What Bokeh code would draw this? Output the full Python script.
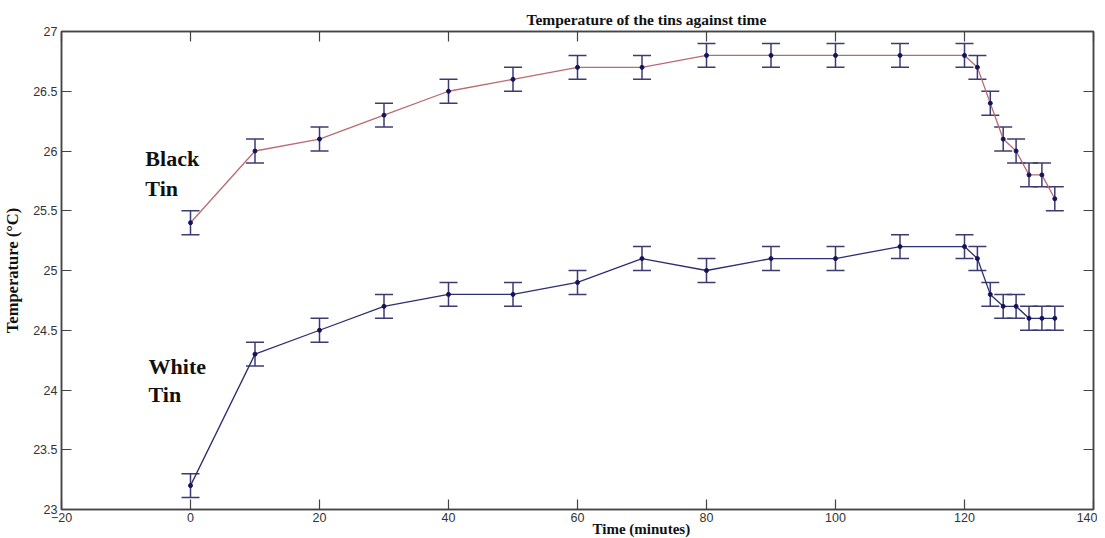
from bokeh.plotting import figure
from bokeh.models import ColumnDataSource, Whisker, TeeHead, Label, LinearAxis, Title
from bokeh.embed import file_html
from bokeh.resources import INLINE

time_min = [0, 10, 20, 30, 40, 50, 60, 70, 80, 90, 100, 110, 120, 122, 124, 126, 128, 130, 132, 134]
black_tin = [25.4, 26.0, 26.1, 26.3, 26.5, 26.6, 26.7, 26.7, 26.8, 26.8, 26.8, 26.8, 26.8,
             26.7, 26.4, 26.1, 26.0, 25.8, 25.8, 25.6]
white_tin = [23.2, 24.3, 24.5, 24.7, 24.8, 24.8, 24.9, 25.1, 25.0, 25.1, 25.1, 25.2, 25.2,
             25.1, 24.8, 24.7, 24.7, 24.6, 24.6, 24.6]
err = 0.1
x_ticks = [-20, 0, 20, 40, 60, 80, 100, 120, 140]
y_ticks = [23, 23.5, 24, 24.5, 25, 25.5, 26, 26.5, 27]

src_b = ColumnDataSource(dict(x=time_min, y=black_tin,
                              lo=[v - err for v in black_tin], hi=[v + err for v in black_tin]))
src_w = ColumnDataSource(dict(x=time_min, y=white_tin,
                              lo=[v - err for v in white_tin], hi=[v + err for v in white_tin]))

p = figure(frame_width=1032, frame_height=478, x_range=(-20, 140), y_range=(23, 27),
           output_backend="svg", toolbar_location=None,
           min_border_left=53, min_border_right=4, min_border_top=31, min_border_bottom=29)
p.background_fill_color = "white"
p.border_fill_color = "white"
p.outline_line_color = "#444444"
p.outline_line_width = 1.5
p.xgrid.visible = False
p.ygrid.visible = False

def style_axis(ax, labels=True):
    ax.major_tick_in = 10
    ax.major_tick_out = 0
    ax.minor_tick_line_color = None
    ax.axis_line_color = "#444444"
    ax.axis_line_width = 1.5
    ax.major_tick_line_color = "#444444"
    ax.major_tick_line_width = 1.2
    ax.major_label_text_font = "Liberation Sans"
    ax.major_label_text_font_size = "12.5px"
    ax.major_label_text_color = "#333333"
    if not labels:
        ax.major_label_text_font_size = "0px"
        ax.major_label_text_color = None
        ax.major_label_standoff = 0

p.xaxis.ticker = x_ticks
p.yaxis.ticker = y_ticks
p.yaxis.major_label_overrides = {23: "23", 24: "24", 25: "25", 26: "26", 27: "27"}
style_axis(p.xaxis[0])
style_axis(p.yaxis[0])
p.xaxis.major_label_standoff = 3
p.yaxis.major_label_standoff = 4
p.yaxis.axis_label = "Temperature (\u00b0C)"
p.yaxis.axis_label_text_font = "Liberation Serif"
p.yaxis.axis_label_text_font_size = "16.5px"
p.yaxis.axis_label_text_font_style = "bold"
p.yaxis.axis_label_text_color = "#111111"
p.yaxis.axis_label_standoff = 8

top_ax = LinearAxis(ticker=x_ticks)
style_axis(top_ax, labels=False)
p.add_layout(top_ax, "above")
right_ax = LinearAxis(ticker=y_ticks)
style_axis(right_ax, labels=False)
p.add_layout(right_ax, "right")

p.add_layout(Title(text="Temperature of the tins against time", align="left", offset=465,
                   text_font="Liberation Serif", text_font_size="15.5px", text_font_style="bold",
                   text_color="#111111", standoff=8), "above")
p.add_layout(Title(text="Time (minutes)", align="left", offset=531,
                   text_font="Liberation Serif", text_font_size="15px", text_font_style="bold",
                   text_color="#111111", standoff=-12), "below")

bar_color = "#3b3b72"
for src, line_color in ((src_b, "#bb6a72"), (src_w, "#2e2e72")):
    p.line("x", "y", source=src, line_color=line_color, line_width=1.3)
    wh = Whisker(base="x", lower="lo", upper="hi", source=src,
                 line_color=bar_color, line_width=1.5,
                 upper_head=TeeHead(size=18, line_color=bar_color, line_width=1.5),
                 lower_head=TeeHead(size=18, line_color=bar_color, line_width=1.5))
    p.add_layout(wh)
    p.scatter("x", "y", source=src, size=4, color="#14145a")

lab_kw = dict(text_font="Liberation Serif", text_font_size="22px", text_font_style="bold",
              text_color="#111111", text_baseline="alphabetic")
p.add_layout(Label(x=-7.0, y=25.94, text="Black", **lab_kw))
p.add_layout(Label(x=-7.0, y=25.69, text="Tin", **lab_kw))
p.add_layout(Label(x=-6.5, y=24.2, text="White", **lab_kw))
p.add_layout(Label(x=-6.5, y=23.96, text="Tin", **lab_kw))

open("out.html", "w").write(file_html(p, INLINE))
